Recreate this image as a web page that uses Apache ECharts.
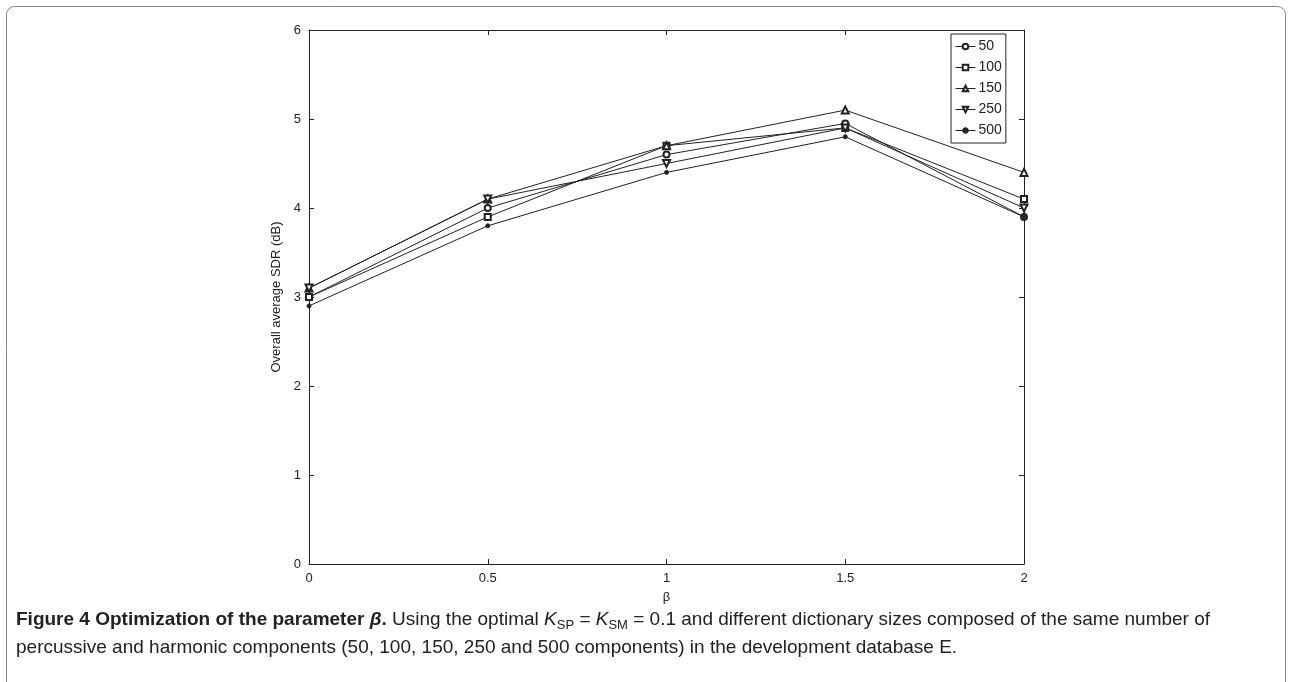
<!DOCTYPE html>
<html>
<head>
<meta charset="utf-8">
<script src="https://cdn.jsdelivr.net/npm/echarts@6/dist/echarts.min.js"></script>
<style>
  html, body { margin: 0; padding: 0; background: #fff; }
  #chart { width: 1292px; height: 682px; }
</style>
</head>
<body>
<div id="chart"></div>
<script>
// x positions (beta)
const betaValues = [0, 0.5, 1, 1.5, 2];
// series names (dictionary sizes)
const seriesNames = ["50", "100", "150", "250", "500"];
// overall average SDR (dB) per size
const sdr50 = [3.0, 4.0, 4.6, 4.95, 3.9];
const sdr100 = [3.0, 3.9, 4.7, 4.9, 4.1];
const sdr150 = [3.1, 4.1, 4.7, 5.1, 4.4];
const sdr250 = [3.1, 4.1, 4.5, 4.9, 4.0];
const sdr500 = [2.9, 3.8, 4.4, 4.8, 3.9];
const xTicks = [0, 0.5, 1, 1.5, 2];
const yTicks = [0, 1, 2, 3, 4, 5, 6];

const chart = echarts.init(document.getElementById("chart"));
const black = "#222";
const axisFont = "Liberation Sans";

function pairs(vals) {
  return betaValues.map((b, i) => [b, vals[i]]);
}

const markers = {
  "50": { symbol: "emptyCircle", size: 6 },
  "100": { symbol: "emptyRect", size: 6 },
  "150": { symbol: "emptyTriangle", size: 7 },
  "250": { symbol: "emptyTriangle", size: 7, rotate: 180 },
  "500": { symbol: "circle", size: 4 }
};
const allData = [sdr50, sdr100, sdr150, sdr250, sdr500];

const series = seriesNames.map((name, i) => ({
  name: name,
  type: "line",
  data: pairs(allData[i]),
  symbol: markers[name].symbol,
  symbolSize: markers[name].size,
  symbolRotate: markers[name].rotate || 0,
  showAllSymbol: true,
  animation: false,
  lineStyle: { color: black, width: 1 },
  itemStyle: { color: black, borderColor: black, borderWidth: 1 }
}));

const axisCommon = {
  type: "value",
  axisLine: { show: true, onZero: false, lineStyle: { color: black, width: 1 } },
  axisTick: { show: true, inside: true, length: 5, lineStyle: { color: black } },
  splitLine: { show: false }
};

const option = {
  backgroundColor: "#fff",
  animation: false,
  grid: { left: 309, right: 268, top: 30, bottom: 118 },
  legend: {
    orient: "vertical",
    left: 951,
    top: 34,
    data: seriesNames,
    backgroundColor: "#fff",
    borderColor: black,
    borderWidth: 1,
    padding: [2, 4, 2, 4],
    itemGap: 0,
    itemWidth: 20,
    itemHeight: 7,
    lineStyle: { width: 1 },
    itemStyle: { borderWidth: 1 },
    textStyle: { color: black, fontSize: 14, fontFamily: axisFont, lineHeight: 21, padding: [0, 0, 0, -2] }
  },
  xAxis: [
    Object.assign({}, axisCommon, {
      min: 0, max: 2, interval: 0.5,
      position: "bottom",
      name: "β",
      nameLocation: "middle",
      nameGap: 27,
      nameTextStyle: { color: black, fontSize: 13, fontFamily: axisFont },
      axisLabel: {
        color: black, fontSize: 13, fontFamily: axisFont, margin: 8,
        formatter: v => (xTicks.indexOf(v) >= 0 ? String(v) : "")
      }
    }),
    Object.assign({}, axisCommon, {
      min: 0, max: 2, interval: 0.5,
      position: "top",
      axisLabel: { show: false }
    })
  ],
  yAxis: [
    Object.assign({}, axisCommon, {
      min: 0, max: 6, interval: 1,
      position: "left",
      name: "Overall average SDR (dB)",
      nameLocation: "middle",
      nameGap: 22,
      nameTextStyle: { color: black, fontSize: 13, fontFamily: axisFont },
      axisLabel: {
        color: black, fontSize: 13, fontFamily: axisFont, margin: 8,
        formatter: v => (yTicks.indexOf(v) >= 0 ? String(v) : "")
      }
    }),
    Object.assign({}, axisCommon, {
      min: 0, max: 6, interval: 1,
      position: "right",
      axisLabel: { show: false }
    })
  ],
  series: series,
  graphic: [
    {
      type: "rect",
      shape: { x: 6.5, y: 6.5, width: 1279, height: 700, r: 8 },
      style: { fill: null, stroke: "#888", lineWidth: 1 },
      silent: true,
      z: 100
    },
    {
      type: "text",
      left: 16,
      top: 610,
      style: {
        text: "{b|Figure 4 Optimization of the parameter }{bi|β}{b|.}{n| Using the optimal }{i|K}{s|SP}{n| = }{i|K}{s|SM}{n| = 0.1 and different dictionary sizes composed of the same number of}\n{n|percussive and harmonic components (50, 100, 150, 250 and 500 components) in the development database E.}",
        fill: "#222",
        font: "19px Liberation Sans",
        rich: {
          b: { fontWeight: "bold", fontSize: 19, fontFamily: axisFont, lineHeight: 28, fill: "#222" },
          bi: { fontWeight: "bold", fontStyle: "italic", fontSize: 19, fontFamily: axisFont, lineHeight: 28, fill: "#222" },
          n: { fontSize: 19, fontFamily: axisFont, lineHeight: 28, fill: "#222" },
          i: { fontStyle: "italic", fontSize: 19, fontFamily: axisFont, lineHeight: 28, fill: "#222" },
          s: { fontSize: 13, fontFamily: axisFont, lineHeight: 28, verticalAlign: "bottom", padding: [0, 0, 2, 0], fill: "#222" }
        }
      }
    }
  ]
};

chart.setOption(option);
</script>
</body>
</html>
